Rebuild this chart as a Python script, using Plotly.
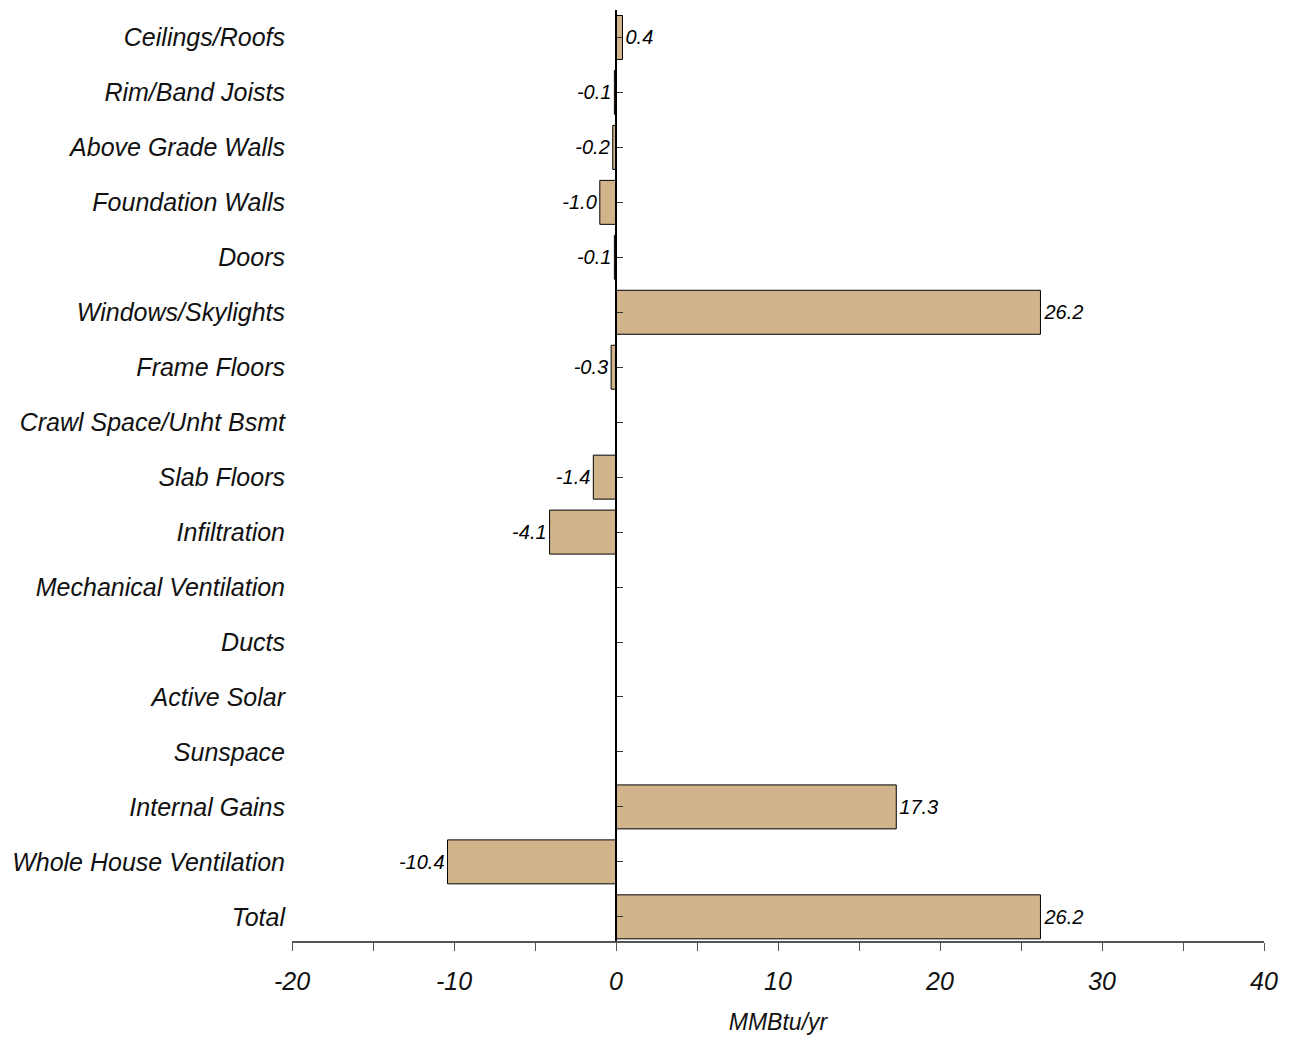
import plotly.graph_objects as go

categories = ["Ceilings/Roofs", "Rim/Band Joists", "Above Grade Walls", "Foundation Walls",
              "Doors", "Windows/Skylights", "Frame Floors", "Crawl Space/Unht Bsmt",
              "Slab Floors", "Infiltration", "Mechanical Ventilation", "Ducts",
              "Active Solar", "Sunspace", "Internal Gains", "Whole House Ventilation", "Total"]
values = [0.4, -0.1, -0.2, -1.0, -0.1, 26.2, -0.3, 0.0, -1.4, -4.1, 0.0, 0.0, 0.0, 0.0, 17.3, -10.4, 26.2]
x_tick_vals = [-20, -15, -10, -5, 0, 5, 10, 15, 20, 25, 30, 35, 40]
x_tick_text = ["-20", "", "-10", "", "0", "", "10", "", "20", "", "30", "", "40"]

labels = ["" if v == 0 else f"{v:.1f}" for v in values]

FONT = "Liberation Sans, Arial, sans-serif"

fig = go.Figure()
fig.add_trace(go.Bar(
    y=categories, x=values, orientation="h",
    marker=dict(color="#D2B48C", line=dict(color="black", width=1)),
    width=0.8,
    text=labels, textposition="outside", cliponaxis=False,
    textfont=dict(family=FONT, size=20, color="black", style="italic"),
    yaxis="y",
))
# invisible trace to carry second y-axis at zero line
fig.add_trace(go.Bar(y=categories, x=[0]*len(categories), orientation="h",
                     yaxis="y2", showlegend=False, marker=dict(color="rgba(0,0,0,0)"),
                     hoverinfo="skip"))

fig.update_layout(
    width=1291, height=1039,
    margin=dict(l=284, r=35, t=2, b=106),
    plot_bgcolor="white", paper_bgcolor="white",
    showlegend=False,
    font=dict(family=FONT, color="#111111"),
    xaxis=dict(
        range=[-20, 40], tickvals=x_tick_vals, ticktext=x_tick_text,
        ticks="outside", ticklen=8, tickcolor="#555555", tickwidth=1,
        showline=True, linecolor="#555555", linewidth=1.5,
        showgrid=False, zeroline=False,
        tickfont=dict(family=FONT, size=25, color="#111111", style="italic"),
        ticklabelstandoff=9,
        title=dict(text="MMBtu/yr", font=dict(family=FONT, size=23, color="#111111", style="italic"), standoff=20),
        anchor="y",
    ),
    yaxis=dict(
        categoryorder="array", categoryarray=categories, autorange=False,
        range=[16.44, -0.5],
        showline=False, showgrid=False, zeroline=False, ticks="",
        tickfont=dict(family=FONT, size=25, color="#111111", style="italic"),
        ticklabelstandoff=6,
    ),
    yaxis2=dict(
        categoryorder="array", categoryarray=categories, autorange=False,
        range=[16.44, -0.5], overlaying="y", anchor="free", position=1/3, side="left",
        showline=True, linecolor="black", linewidth=1.5,
        ticks="inside", ticklen=6, tickcolor="#333333",
        showticklabels=False, showgrid=False, zeroline=False,
    ),
)

fig.write_html("out.html")
